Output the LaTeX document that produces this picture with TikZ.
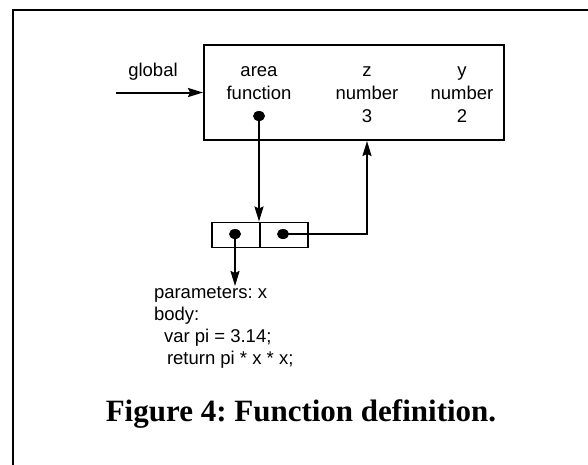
\documentclass[tikz,border=0pt]{standalone}
\usepackage{fontspec}
\setmainfont{Liberation Serif}
\setsansfont{Liberation Sans}
\usetikzlibrary{arrows.meta}
\frenchspacing
\begin{document}
\begin{tikzpicture}[x=1pt,y=-1pt,
  line width=2pt,
  lbl/.style={inner sep=0pt,anchor=base,font=\sffamily\fontsize{18.5}{22}\selectfont},
  arr/.style={-{Stealth[length=15pt,width=9pt,inset=2pt]}},
  cell/.style={draw,line width=1.8pt,minimum width=48pt,minimum height=25pt,inner sep=0pt}]
\useasboundingbox (0,0) rectangle (588,464);
% frame
\draw[line width=2.2pt] (13,470) -- (13,10) -- (600,10);
% global
\node[lbl] (glob) at (153,76) {global};
\coordinate (gstart) at (116,92.5);
% env box
\node[draw,line width=2pt,minimum width=300pt,minimum height=95pt,inner sep=0pt,anchor=north west] (env) at (203,44) {};
\draw[arr] (gstart) -- (gstart -| env.west);
\node[lbl] (a1) at (259,76) {area};
\node[lbl] (a2) at (259,99) {function};
\node[lbl] (z1) at (367,76) {z};
\node[lbl] (z2) at (367,99) {number};
\node[lbl] (z3) at (367,122) {3};
\node[lbl] (y1) at (462,76) {y};
\node[lbl] (y2) at (462,99) {number};
\node[lbl] (y3) at (462,122) {2};
\fill (259,116) ellipse (6pt and 5pt);
\coordinate (fdot) at (259,116);
% closure cells
\node[cell,anchor=north west] (c1) at (211,221.5) {};
\node[cell,anchor=north west] (c2) at (259,221.5) {};
\fill (235,234) ellipse (6pt and 5pt);
\fill (283,234) ellipse (6pt and 5pt);
\coordinate (d1) at (235,234);
\coordinate (d2) at (283,234);
\coordinate (zcol) at (367,234);
\draw[arr] (fdot) -- (fdot |- c1.north);
\draw[arr] (d2) -- (zcol) -- (zcol |- env.south);
% code
\node[inner sep=0pt,anchor=north west,align=left,font=\sffamily\fontsize{18.5}{21.8}\selectfont] (code) at (153,286)
  {parameters: x\\body:\\\hspace*{10pt}var pi = 3.14;\\\hspace*{13pt}return pi * x * x;};
\draw[arr] (d1) -- (d1 |- code.north);
% caption
\node[inner sep=0pt,anchor=base,font=\bfseries\fontsize{31}{36}\selectfont] (cap) at (301,421) {Figure 4: Function definition.};
\end{tikzpicture}
\end{document}
